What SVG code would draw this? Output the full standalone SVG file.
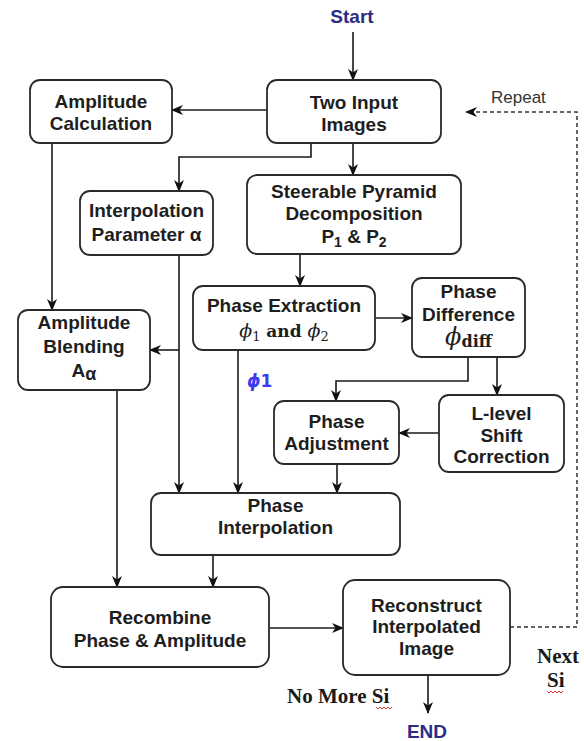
<svg xmlns="http://www.w3.org/2000/svg" width="584" height="741" viewBox="0 0 584 741">
<defs>
<marker id="ah" viewBox="0 0 12 12" refX="11" refY="6" markerWidth="12" markerHeight="12" markerUnits="userSpaceOnUse" orient="auto">
<path d="M0,1 L12,6 L0,11 L3.5,6 Z" fill="#111"/>
</marker>
<style>
.box{fill:#fff;stroke:#2a2a2a;stroke-width:1.8}
.t{font-family:"Liberation Sans",Arial,sans-serif;font-size:19px;font-weight:bold;fill:#1e1e1e;text-anchor:middle}
.c{fill:none;stroke:#1a1a1a;stroke-width:1.6}
.d{fill:none;stroke:#333;stroke-width:1.5;stroke-dasharray:4 3}
.m{font-family:"DejaVu Serif","Liberation Serif",serif;fill:#1e1e1e;text-anchor:middle}
.s{font-family:"Liberation Serif","Times New Roman",serif;font-size:21px;font-weight:bold;fill:#1a1a1a}
.nav{font-family:"Liberation Sans",Arial,sans-serif;font-size:19px;font-weight:bold;fill:#2b2d84;text-anchor:middle}
.sq{fill:none;stroke:#e03030;stroke-width:1}
</style>
</defs>
<rect width="584" height="741" fill="#fff"/>

<text class="nav" x="352" y="23">Start</text>

<g id="connectors">
<path class="c" d="M353,32 V80" marker-end="url(#ah)"/>
<path class="c" d="M267,110 H172" marker-end="url(#ah)"/>
<path class="c" d="M311,143 V157 H179 V191" marker-end="url(#ah)"/>
<path class="c" d="M353,143 V175" marker-end="url(#ah)"/>
<path class="c" d="M52,143 V310" marker-end="url(#ah)"/>
<path class="c" d="M179,255 V493" marker-end="url(#ah)"/>
<path class="c" d="M179,350 H150" marker-end="url(#ah)"/>
<path class="c" d="M300,254 V286" marker-end="url(#ah)"/>
<path class="c" d="M375,318 H412" marker-end="url(#ah)"/>
<path class="c" d="M238,350 V493" marker-end="url(#ah)"/>
<path class="c" d="M468,357 V381 H336 V401" marker-end="url(#ah)"/>
<path class="c" d="M497,357 V395" marker-end="url(#ah)"/>
<path class="c" d="M439,433 H399" marker-end="url(#ah)"/>
<path class="c" d="M337,464 V493" marker-end="url(#ah)"/>
<path class="c" d="M117,390 V587" marker-end="url(#ah)"/>
<path class="c" d="M213,555 V587" marker-end="url(#ah)"/>
<path class="c" d="M269,628 H343" marker-end="url(#ah)"/>
<path class="c" d="M428,675 V713" marker-end="url(#ah)"/>
<path class="d" d="M510,627 H577 V112 H466" marker-end="url(#ah)"/>
<text x="491" y="103" style="font-family:'Liberation Sans',Arial,sans-serif;font-size:17px;fill:#333">Repeat</text>
<text x="247" y="387" style="font-family:'DejaVu Sans','Liberation Sans',sans-serif;font-size:17px;font-weight:bold;fill:#3b3bef"><tspan font-style="italic">ϕ</tspan>1</text>
</g>

<g id="two-input">
<rect class="box" x="267" y="80" width="174" height="63" rx="10"/>
<text class="t" x="354" y="109">Two Input</text>
<text class="t" x="354" y="131">Images</text>
</g>

<g id="amp-calc">
<rect class="box" x="30" y="80" width="142" height="63" rx="10"/>
<text class="t" x="101" y="108">Amplitude</text>
<text class="t" x="101" y="130">Calculation</text>
</g>

<g id="interp-param">
<rect class="box" x="80" y="191" width="133" height="64" rx="10"/>
<text class="t" x="146.5" y="217">Interpolation</text>
<text class="t" x="146.5" y="241">Parameter α</text>
</g>

<g id="steerable">
<rect class="box" x="247" y="175" width="214" height="79" rx="10"/>
<text class="t" x="354" y="198">Steerable Pyramid</text>
<text class="t" x="354" y="220">Decomposition</text>
<text class="t" x="354" y="243">P<tspan font-size="14" dy="4">1</tspan><tspan dy="-4"> &amp; P</tspan><tspan font-size="14" dy="4">2</tspan></text>
</g>

<g id="phase-extraction">
<rect class="box" x="193" y="286" width="182" height="64" rx="10"/>
<text class="t" x="284" y="312">Phase Extraction</text>
<text class="m" x="284" y="337" font-size="19"><tspan font-style="italic">ϕ</tspan><tspan font-size="13" dy="4">1</tspan><tspan dy="-4" font-weight="bold" font-size="17"> and </tspan><tspan font-style="italic">ϕ</tspan><tspan font-size="13" dy="4">2</tspan></text>
</g>

<g id="phase-difference">
<rect class="box" x="412" y="278" width="113" height="79" rx="10"/>
<text class="t" x="468.5" y="298">Phase</text>
<text class="t" x="468.5" y="321">Difference</text>
<text class="m" x="468.5" y="345" font-size="24"><tspan font-style="italic">ϕ</tspan><tspan font-size="16" font-weight="bold" dy="2">diff</tspan></text>
</g>

<g id="amp-blending">
<rect class="box" x="18" y="310" width="132" height="80" rx="10"/>
<text class="t" x="84" y="329">Amplitude</text>
<text class="t" x="84" y="353">Blending</text>
<text class="t" x="84" y="377" font-weight="normal" font-size="17">A<tspan font-weight="bold" font-size="18" dy="3">α</tspan></text>
</g>

<g id="phase-adjustment">
<rect class="box" x="274" y="401" width="125" height="63" rx="10"/>
<text class="t" x="336.5" y="428">Phase</text>
<text class="t" x="336.5" y="450">Adjustment</text>
</g>

<g id="l-level">
<rect class="box" x="439" y="395" width="125" height="77" rx="10"/>
<text class="t" x="501.5" y="420">L-level</text>
<text class="t" x="501.5" y="442">Shift</text>
<text class="t" x="501.5" y="463">Correction</text>
</g>

<g id="phase-interpolation">
<rect class="box" x="151" y="493" width="249" height="62" rx="10"/>
<text class="t" x="275.5" y="512">Phase</text>
<text class="t" x="275.5" y="534">Interpolation</text>
</g>

<g id="recombine">
<rect class="box" x="51" y="587" width="218" height="80" rx="12"/>
<text class="t" x="160" y="624">Recombine</text>
<text class="t" x="160" y="647">Phase &amp; Amplitude</text>
</g>

<g id="reconstruct">
<rect class="box" x="343" y="580" width="167" height="95" rx="12"/>
<text class="t" x="426.5" y="612">Reconstruct</text>
<text class="t" x="426.5" y="633">Interpolated</text>
<text class="t" x="426.5" y="655">Image</text>
</g>

<g id="labels">
<text class="s" x="287" y="703">No More Si</text>
<path class="sq" d="M376,707 l2,2 l2,-2 l2,2 l2,-2 l2,2 l2,-2 l2,2 l2,-2"/>
<text class="s" x="537" y="663">Next</text>
<text class="s" x="547" y="687">Si</text>
<path class="sq" d="M547,691 l2,2 l2,-2 l2,2 l2,-2 l2,2 l2,-2 l2,2 l2,-2"/>
<text class="nav" x="427" y="738">END</text>
</g>
</svg>
